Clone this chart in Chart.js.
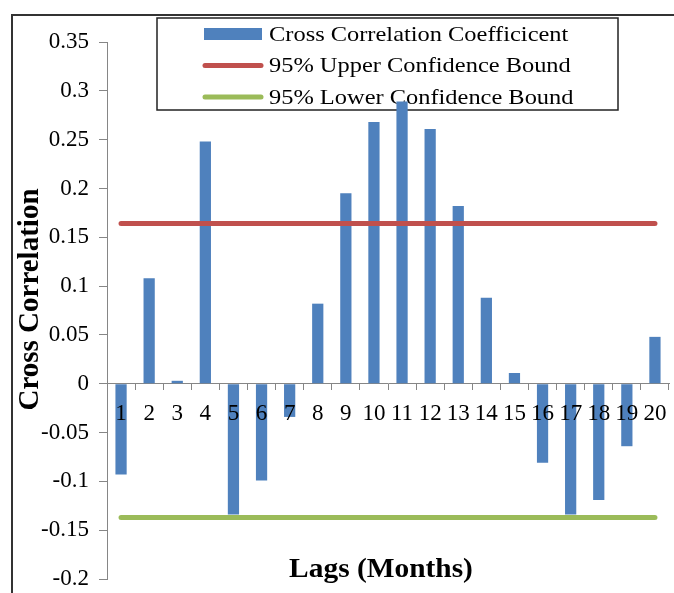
<!DOCTYPE html>
<html>
<head>
<meta charset="utf-8">
<script src="https://cdn.jsdelivr.net/npm/chart.js@4"></script>
<style>
  html, body { margin: 0; padding: 0; background: #fff; }
  #wrap { position: relative; width: 674px; height: 593px; overflow: hidden; }
  #frame { position: absolute; left: 11px; top: 14px; width: 700px; height: 700px;
           border-left: 2px solid #333; border-top: 2px solid #333; }
  #box { position: absolute; left: 0; top: 0; width: 674px; height: 593px; }
</style>
</head>
<body>
<div id="wrap">
  <div id="frame"></div>
  <div id="box"><canvas id="c"></canvas></div>
</div>
<script>
// ---- data ----
const lags = ['1','2','3','4','5','6','7','8','9','10','11','12','13','14','15','16','17','18','19','20'];
const crossCorr = [-0.093, 0.108, 0.003, 0.248, -0.134, -0.099, -0.034, 0.082, 0.195, 0.268,
                   0.289, 0.261, 0.182, 0.088, 0.011, -0.081, -0.134, -0.119, -0.064, 0.048];
const upperBound = 0.164;
const lowerBound = -0.137;
const upperSeries = lags.map(() => upperBound);
const lowerSeries = lags.map(() => lowerBound);
const yTickValues = [-0.2, -0.15, -0.1, -0.05, 0, 0.05, 0.1, 0.15, 0.2, 0.25, 0.3, 0.35];
const seriesNames = ['Cross Correlation Coefficicent', '95% Upper Confidence Bound', '95% Lower Confidence Bound'];
const xTitle = 'Lags (Months)';
const yTitle = 'Cross Correlation';

const SERIF = "'Liberation Serif', 'Times New Roman', serif";
const BLUE = '#4F81BD', RED = '#C0504D', GREEN = '#9BBB59', AXIS = '#868686';

// custom legend (boxed, inside plot) + axis titles
const extras = {
  id: 'extras',
  beforeDatasetsDraw(chart) {
    const ctx = chart.ctx;
    ctx.save();
    // legend box
    ctx.strokeStyle = '#222';
    ctx.lineWidth = 1.5;
    ctx.strokeRect(157, 18, 461, 92);
    const rows = [34, 65.5, 97];
    chart.data.datasets.forEach((ds, i) => {
      const y = rows[i];
      if (ds.type === 'bar') {
        ctx.fillStyle = ds.backgroundColor;
        ctx.fillRect(204, y - 6, 58, 12);
      } else {
        ctx.strokeStyle = ds.borderColor;
        ctx.lineWidth = 5;
        ctx.lineCap = 'round';
        ctx.beginPath();
        ctx.moveTo(205, y); ctx.lineTo(261, y);
        ctx.stroke();
      }
      ctx.save();
      ctx.translate(269, y + 1);
      ctx.scale(1.11, 1);
      ctx.fillStyle = '#000';
      ctx.font = '22px ' + SERIF;
      ctx.textBaseline = 'middle';
      ctx.textAlign = 'left';
      ctx.fillText(ds.label, 0, 0);
      ctx.restore();
    });
    const ca = chart.chartArea;
    // x title
    ctx.save();
    ctx.translate((ca.left + ca.right) / 2 - 7, ca.bottom - 2);
    ctx.scale(1.05, 1);
    ctx.font = 'bold 28px ' + SERIF;
    ctx.fillStyle = '#000';
    ctx.textAlign = 'center';
    ctx.textBaseline = 'alphabetic';
    ctx.fillText(xTitle, 0, 0);
    ctx.restore();
    // y title
    ctx.save();
    ctx.translate(31, (ca.top + ca.bottom) / 2 - 11);
    ctx.rotate(-Math.PI / 2);
    ctx.font = 'bold 29px ' + SERIF;
    ctx.fillStyle = '#000';
    ctx.textAlign = 'center';
    ctx.textBaseline = 'middle';
    ctx.fillText(yTitle, 0, 0);
    ctx.restore();
    ctx.restore();
  }
};

new Chart(document.getElementById('c'), {
  data: {
    labels: lags,
    datasets: [
      { type: 'bar', label: seriesNames[0], data: crossCorr, backgroundColor: BLUE,
        barPercentage: 0.5, categoryPercentage: 0.8, order: 2 },
      { type: 'line', label: seriesNames[1], data: upperSeries, borderColor: RED, borderWidth: 5,
        borderCapStyle: 'round', pointRadius: 0, fill: false, order: 1 },
      { type: 'line', label: seriesNames[2], data: lowerSeries, borderColor: GREEN, borderWidth: 5,
        borderCapStyle: 'round', pointRadius: 0, fill: false, order: 0 }
    ]
  },
  options: {
    responsive: true,
    maintainAspectRatio: false,
    animation: false,
    layout: { padding: { left: 0, right: 5, top: 42, bottom: 14 } },
    plugins: { legend: { display: false }, tooltip: { enabled: false }, title: { display: false } },
    scales: {
      x: {
        type: 'category',
        position: { y: 0 },
        offset: true,
        afterFit(scale) { scale.height = 0; scale.paddingLeft = 0; scale.paddingRight = 0; },
        grid: { display: true, drawOnChartArea: false, drawTicks: true, tickLength: 6, color: AXIS, offset: true },
        border: { display: true, color: AXIS, width: 1 },
        ticks: { z: 1, color: '#000', font: { family: SERIF, size: 23 }, padding: 10, maxRotation: 0, autoSkip: false }
      },
      y: {
        type: 'linear',
        min: -0.2,
        max: 0.35,
        afterBuildTicks(scale) { scale.ticks = yTickValues.map(v => ({ value: v })); },
        afterFit(scale) { scale.width = 107; scale.paddingTop = 0; scale.paddingBottom = 0; },
        grid: { display: true, drawOnChartArea: false, drawTicks: true, tickLength: 8, color: AXIS },
        border: { display: true, color: AXIS, width: 1 },
        ticks: {
          color: '#000', font: { family: SERIF, size: 23 }, padding: 10,
          callback: (v) => String(Number(v.toFixed(2)))
        },
        title: { display: false }
      }
    }
  },
  plugins: [extras]
});
</script>
</body>
</html>
